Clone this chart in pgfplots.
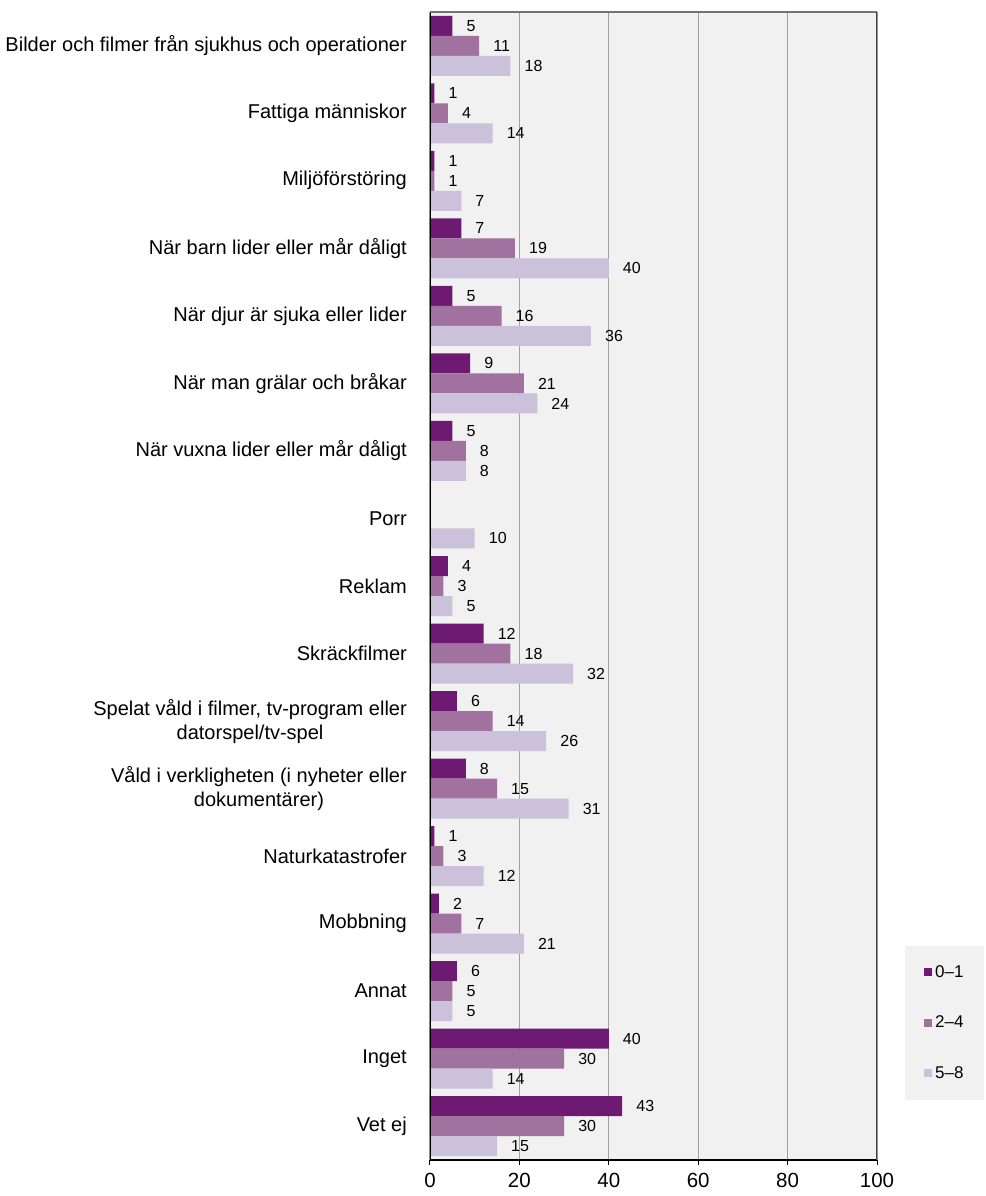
\documentclass[border=0pt]{standalone}
\usepackage{fontspec}
\setmainfont{Liberation Sans}
\usepackage{pgfplots}
\pgfplotsset{compat=1.18}
\definecolor{cA}{HTML}{6E1A72}
\definecolor{cB}{HTML}{A172A0}
\definecolor{cC}{HTML}{CBC1DB}
\definecolor{bggray}{HTML}{F1F1F1}
\definecolor{gridgray}{HTML}{A0A0A0}
\begin{document}
\begin{tikzpicture}
\useasboundingbox (-430pt,-36pt) rectangle (555pt,1160pt);
\begin{axis}[
  at={(0pt,0pt)}, anchor=south west,
  scale only axis, width=447pt, height=1148pt,
  xbar, bar width=20pt,
  xmin=0, xmax=100, ymin=-0.5, ymax=16.5,
  y dir=reverse,
  xtick={0,20,...,100},
  ytick={0,...,16},
  yticklabels={
    Bilder och filmer från sjukhus och operationer,
    Fattiga människor,
    Miljöförstöring,
    När barn lider eller mår dåligt,
    När djur är sjuka eller lider,
    När man grälar och bråkar,
    När vuxna lider eller mår dåligt,
    Porr,
    Reklam,
    Skräckfilmer,
    {Spelat våld i filmer, tv-program eller\\datorspel/tv-spel},
    {Våld i verkligheten (i nyheter eller\\dokumentärer)},
    Naturkatastrofer,
    Mobbning,
    Annat,
    Inget,
    Vet ej},
  yticklabel style={font=\fontsize{20}{24}\selectfont, align=center, inner sep=0pt, xshift=-18pt},
  xticklabel style={font=\fontsize{20.5}{24}\selectfont, yshift=-5pt},
  /pgf/number format/assume math mode=true,
  ytick style={draw=none},
  xtick pos=bottom,
  tick align=outside,
  major tick length=5pt,
  xtick style={black, line width=1pt},
  axis line style={draw=none},
  axis background/.style={fill=bggray},
  xmajorgrids,
  major grid style={gridgray, line width=1.3pt},
  nodes near coords,
  every node near coord/.append style={font=\fontsize{16}{16}\selectfont, anchor=west, inner sep=0pt, xshift=14pt, black},
  legend style={at={(axis description cs:1.0626,0.0523)}, anchor=south west,
    fill=bggray, draw=none, font=\fontsize{17}{19}\selectfont,
    row sep=35pt, inner ysep=19pt, inner xsep=19pt,
    nodes={inner sep=1pt}},
  legend cell align=left,
  legend image code/.code={\fill[#1,draw=none] (3pt,-4pt) rectangle (11pt,4pt); \path (13pt,0pt);},
]
\addplot[fill=cA, draw=none, bar shift=20pt] coordinates {
  (5,0) (1,1) (1,2) (7,3) (5,4) (9,5) (5,6) (4,8) (12,9) (6,10) (8,11) (1,12) (2,13) (6,14) (40,15) (43,16)};
\addplot[fill=cB, draw=none, bar shift=0pt] coordinates {
  (11,0) (4,1) (1,2) (19,3) (16,4) (21,5) (8,6) (3,8) (18,9) (14,10) (15,11) (3,12) (7,13) (5,14) (30,15) (30,16)};
\addplot[fill=cC, draw=none, bar shift=-20pt] coordinates {
  (18,0) (14,1) (7,2) (40,3) (36,4) (24,5) (8,6) (10,7) (5,8) (32,9) (26,10) (31,11) (12,12) (21,13) (5,14) (14,15) (15,16)};
\legend{0–1, 2–4, 5–8}
\draw[black, line width=1.3pt] (rel axis cs:0,1) -- (rel axis cs:0,0) -- (rel axis cs:1,0);
\draw[black!55, line width=1.3pt] (rel axis cs:0,1) -- (rel axis cs:1,1);
\draw[black!75, line width=1.3pt] (rel axis cs:1,1) -- (rel axis cs:1,0);
\end{axis}
\end{tikzpicture}
\end{document}
